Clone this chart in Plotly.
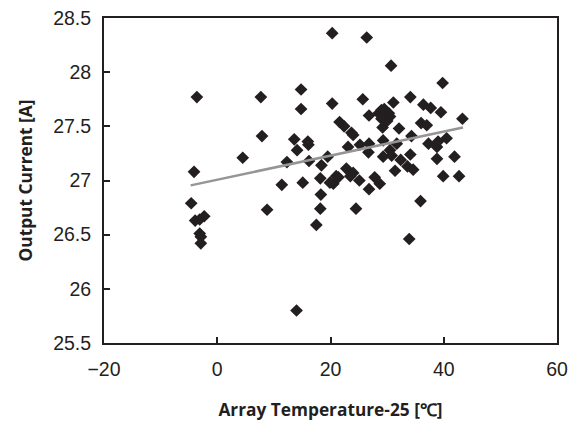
import plotly.graph_objects as go

# Scatter data: array temperature - 25 (degC) vs output current (A)
temp_x = [
    -4.6, -4.1, -3.6, -3.9, -3.1, -2.3, -3.1, -2.9, -2.9,
    4.5, 7.7, 7.9, 8.8, 11.4, 12.3, 13.6, 14.1, 14.0, 14.8, 14.8,
    15.1, 16.0, 16.1, 16.2, 17.5, 18.2, 18.3, 18.2, 18.4, 19.5,
    20.3, 20.3, 20.5, 21.4, 21.6, 22.4, 23.7, 24.0, 23.1, 22.8,
    24.0, 24.5, 25.1, 25.2, 25.7, 26.4, 26.8, 26.8, 26.7, 26.8,
    27.8, 28.7, 29.0, 29.6, 30.5, 29.2, 29.3, 29.3, 30.5, 30.8,
    30.7, 31.1, 31.7, 31.4, 32.1, 32.4, 33.6, 34.6, 34.1, 34.1,
    34.3, 33.9, 35.9, 36.0, 37.0, 36.4, 37.7, 37.3, 38.8, 39.0,
    38.8, 39.5, 39.8, 40.5, 39.9, 41.9, 42.7, 43.3,
    28.5, 29.5, 30.3, 30.0, 29.0, 21.0, 23.5, 19.9,
]
current_y = [
    26.79, 27.08, 27.77, 26.63, 26.64, 26.67, 26.51, 26.48, 26.42,
    27.21, 27.77, 27.41, 26.73, 26.96, 27.17, 27.38, 27.28, 25.80, 27.84, 27.66,
    26.98, 27.36, 27.33, 27.18, 26.59, 26.74, 26.87, 27.02, 27.14, 27.22,
    28.36, 27.71, 26.97, 27.03, 27.54, 27.50, 27.44, 27.42, 27.31, 27.11,
    27.07, 26.74, 27.00, 27.33, 27.75, 28.32, 27.60, 27.34, 27.26, 26.92,
    27.03, 26.97, 27.65, 27.60, 27.59, 27.49, 27.37, 27.22, 27.28, 27.23,
    28.06, 27.72, 27.34, 27.09, 27.48, 27.19, 27.13, 27.10, 27.24, 27.77,
    27.41, 26.46, 26.81, 27.53, 27.51, 27.70, 27.67, 27.34, 27.31, 27.36,
    27.20, 27.63, 27.90, 27.39, 27.04, 27.22, 27.04, 27.57,
    27.62, 27.66, 27.62, 27.55, 27.57, 27.04, 27.04, 26.98,
]

# Linear trend line
trend_x = [-4.7, 43.4]
trend_y = [26.955, 27.49]

x_tickvals = [-20, 0, 20, 40, 60]
x_ticktext = ["\u221220", "0", "20", "40", "60"]
y_tickvals = [25.5, 26, 26.5, 27, 27.5, 28, 28.5]
y_ticktext = ["25.5", "26", "26.5", "27", "27.5", "28", "28.5"]

fig = go.Figure()
fig.add_trace(go.Scatter(
    x=temp_x, y=current_y, mode="markers",
    marker=dict(symbol="diamond", size=9.8, color="#231f20", line=dict(width=0)),
    showlegend=False, cliponaxis=False,
))
fig.add_trace(go.Scatter(
    x=trend_x, y=trend_y, mode="lines",
    line=dict(color="#959595", width=2.5),
    showlegend=False,
))

tick_font = dict(family="Liberation Sans", size=19.5, color="#231f20")
title_font = dict(family="Open Sans", size=17.3, color="#231f20")

fig.update_layout(
    width=571, height=421,
    margin=dict(l=104, r=14, t=18, b=78),
    paper_bgcolor="white", plot_bgcolor="white",
    xaxis=dict(
        range=[-20, 60], tickvals=x_tickvals, ticktext=x_ticktext,
        ticks="inside", ticklen=6, tickwidth=1.5, tickcolor="#231f20",
        showline=True, linecolor="#231f20", linewidth=2, mirror=True,
        showgrid=False, zeroline=False, tickfont=tick_font, automargin=False,
        ticklabelstandoff=8, ticklabeloverflow="allow",
        title=dict(text="<b>Array Temperature-25 [\u2103]</b>", font=title_font, standoff=24),
    ),
    yaxis=dict(
        range=[25.5, 28.5], tickvals=y_tickvals, ticktext=y_ticktext,
        ticks="inside", ticklen=6, tickwidth=1.5, tickcolor="#231f20",
        showline=True, linecolor="#231f20", linewidth=2, mirror=True,
        showgrid=False, zeroline=False, tickfont=tick_font, automargin=False,
        ticklabelstandoff=7, ticklabeloverflow="allow",
        title=dict(text="<b>Output Current [A]</b>", font=title_font, standoff=16),
    ),
)

fig.write_html(
    "out.html",
    config={"displayModeBar": False},
    post_script="document.body.style.margin='0';document.body.style.overflow='hidden';",
)
